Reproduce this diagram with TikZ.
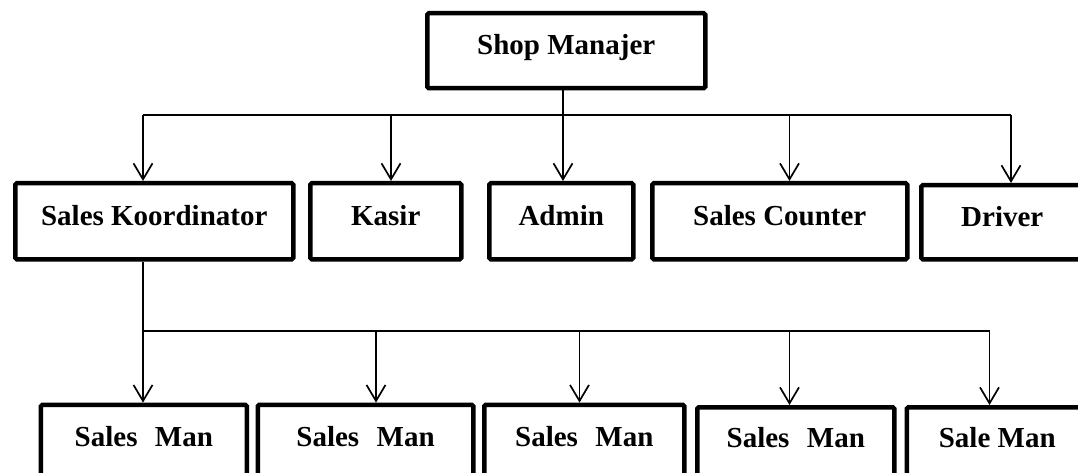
\documentclass[tikz,border=0pt]{standalone}
\usepackage{fontspec}
\setmainfont{Liberation Serif}
\usetikzlibrary{arrows.meta}
\tikzset{
  orgbox/.style={draw, line width=4.5pt, rounded corners=1.5pt, inner sep=0pt,
    font=\fontsize{29}{34}\selectfont\bfseries, anchor=north west},
  conn/.style={line width=1.7pt},
  arr/.style={line width=1.7pt, -{Straight Barb[length=16pt,width=19pt]}},
}
\begin{document}
\begin{tikzpicture}[x=1pt,y=-1pt]
\clip (0,0) rectangle (1078,473);
% top
\node[orgbox, minimum width=278pt, text height=41.5pt, text depth=33.5pt] (shop) at (425,11) {Shop Manajer};
% row 1
\node[orgbox, minimum width=278pt, text height=42.5pt, text depth=33.5pt] (sk) at (13,181) {Sales Koordinator};
\node[orgbox, minimum width=151pt, text height=42.5pt, text depth=33.5pt] (kasir) at (308,181) {Kasir};
\node[orgbox, minimum width=144pt, text height=42.5pt, text depth=33.5pt] (admin) at (487,181) {Admin};
\node[orgbox, minimum width=255pt, text height=42.5pt, text depth=33.5pt] (sc) at (650,181) {Sales Counter};
\node[orgbox, minimum width=162pt, text height=41pt, text depth=33pt] (driver) at (919,183) {Driver};
% row 2
\node[orgbox, minimum width=206pt, text height=41.5pt, text depth=34pt] (sm1) at (38.6,402.6) {Sales\hspace{0.6em}Man};
\node[orgbox, minimum width=215.5pt, text height=41.5pt, text depth=34pt] (sm2) at (255.5,402.6) {Sales\hspace{0.6em}Man};
\node[orgbox, minimum width=200pt, text height=41.5pt, text depth=34pt] (sm3) at (482,402.6) {Sales\hspace{0.6em}Man};
\node[orgbox, minimum width=197pt, text height=40pt, text depth=34pt] (sm4) at (695,405) {Sales\hspace{0.6em}Man};
\node[orgbox, minimum width=181pt, text height=40pt, text depth=34pt] (sm5) at (904.5,405) {Sale Man};
% bus 1
\coordinate (t1) at (143,115);
\coordinate (t2) at (391,115);
\coordinate (t3) at (563,115);
\coordinate (t4) at (789.5,115);
\coordinate (t5) at (1011,115);
\draw[conn] (shop.south -| t3) -- (t3);
\draw[conn] (t1) -- (t5);
\draw[arr] (t1) -- (sk.north -| t1);
\draw[arr] (t2) -- (kasir.north -| t2);
\draw[arr] (t3) -- (admin.north -| t3);
\draw[arr] (t4) -- (sc.north -| t4);
\draw[arr] (t5) -- (driver.north -| t5);
% bus 2
\coordinate (u1) at (143,331);
\coordinate (u2) at (376,331);
\coordinate (u3) at (579.5,331);
\coordinate (u4) at (789.5,331);
\coordinate (u5) at (989.5,331);
\draw[conn] (sk.south -| u1) -- (u1);
\draw[conn] (u1) -- (u5);
\draw[arr] (u1) -- (sm1.north -| u1);
\draw[arr] (u2) -- (sm2.north -| u2);
\draw[arr] (u3) -- (sm3.north -| u3);
\draw[arr] (u4) -- (sm4.north -| u4);
\draw[arr] (u5) -- (sm5.north -| u5);
\end{tikzpicture}
\end{document}
